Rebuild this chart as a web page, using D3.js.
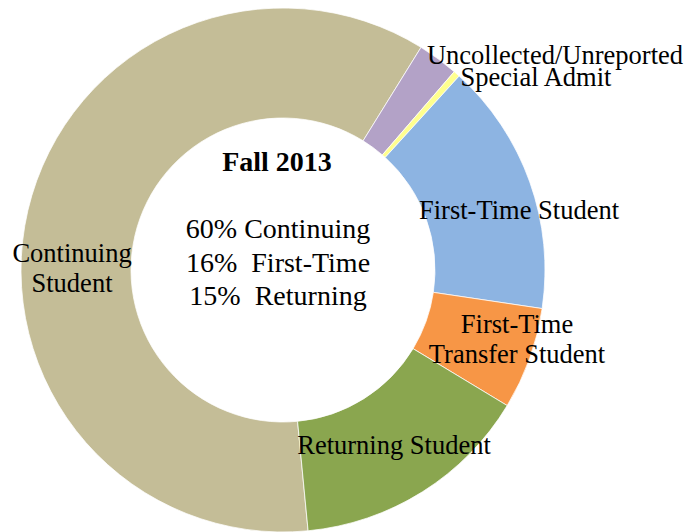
<!DOCTYPE html>
<html lang="en">
  <head>
    <meta charset="utf-8">
    <title>Fall 2013</title>
    <style>
    body {
        margin: 0;
        background: #fff;
    }
    svg text {
        font-family: "Liberation Serif", "Times New Roman", serif;
        fill: #000;
    }
    .slice-label {
        font-size: 26.5px;
    }
    .center-title {
        font-size: 28px;
        font-weight: bold;
    }
    .center-line {
        font-size: 28px;
        white-space: pre;
    }
    </style>
  </head>
  <body>
    <div id="chart"></div>

    <script src="https://d3js.org/d3.v7.min.js"></script>
    <script>
    (function(d3) {
        'use strict';

        // slices, clockwise from the bottom
        var categories = ['Continuing Student', 'Uncollected/Unreported', 'Special Admit',
            'First-Time Student', 'First-Time Transfer Student', 'Returning Student'];
        var shares = [60.3, 2.5, 0.4, 15.6, 6.3, 14.8];
        var sliceColors = ['#C4BD97', '#B3A2C7', '#FFFF8F', '#8DB4E2', '#F79646', '#8AA64F'];
        var labelLines = [
            ['Continuing', 'Student'],
            ['Uncollected/Unreported'],
            ['Special Admit'],
            ['First-Time Student'],
            ['First-Time', 'Transfer Student'],
            ['Returning Student']
        ];
        var centerTitle = 'Fall 2013';
        var centerLines = ['60% Continuing', '16%  First-Time', '15%  Returning'];

        var width = 687;
        var height = 532;
        var cx = 283, cy = 270;
        var outerRadius = 262;
        var innerRadius = 152;
        var lineHeight = 30;

        // hand placed labels, offsets from the donut centre (first baseline)
        var labelSpots = [
            [-211, -8], [272, -206], [253, -184],
            [236, -51], [234, 63], [111, 184]
        ];

        var color = d3.scaleOrdinal()
            .domain(categories)
            .range(sliceColors);

        var svg = d3.select('#chart')
            .append('svg')
            .attr('width', width)
            .attr('height', height)
            .append('g')
            .attr('transform', 'translate(' + cx + ',' + cy + ')');

        var startAngle = 174.5 * Math.PI / 180;

        var pie = d3.pie()
            .value(function(d) { return d.value; })
            .sort(null)
            .startAngle(startAngle)
            .endAngle(startAngle + 2 * Math.PI);

        var arc = d3.arc()
            .innerRadius(innerRadius)
            .outerRadius(outerRadius);

        var dataset = categories.map(function(c, i) {
            return {name: c, value: shares[i], lines: labelLines[i]};
        });

        svg.selectAll('path')
            .data(pie(dataset))
            .enter()
            .append('path')
            .attr('d', arc)
            .attr('fill', function(d) { return color(d.data.name); })
            .attr('stroke', '#fff')
            .attr('stroke-width', 0.75);

        var labels = svg.selectAll('.slice-label')
            .data(dataset)
            .enter()
            .append('text')
            .attr('class', 'slice-label')
            .attr('text-anchor', 'middle')
            .attr('transform', function(d, i) {
                return 'translate(' + labelSpots[i][0] + ',' + labelSpots[i][1] + ')';
            });

        labels.selectAll('tspan')
            .data(function(d) { return d.lines; })
            .enter()
            .append('tspan')
            .attr('x', 0)
            .attr('y', function(d, i) { return i * lineHeight; })
            .text(function(d) { return d; });

        svg.append('text')
            .attr('class', 'center-title')
            .attr('text-anchor', 'middle')
            .attr('x', -6)
            .attr('y', -99)
            .text(centerTitle);

        svg.selectAll('.center-line')
            .data(centerLines)
            .enter()
            .append('text')
            .attr('class', 'center-line')
            .attr('text-anchor', 'middle')
            .attr('x', -5)
            .attr('y', function(d, i) { return -32 + i * 33.5; })
            .text(function(d) { return d; });

    })(window.d3);
    </script>
  </body>
</html>
